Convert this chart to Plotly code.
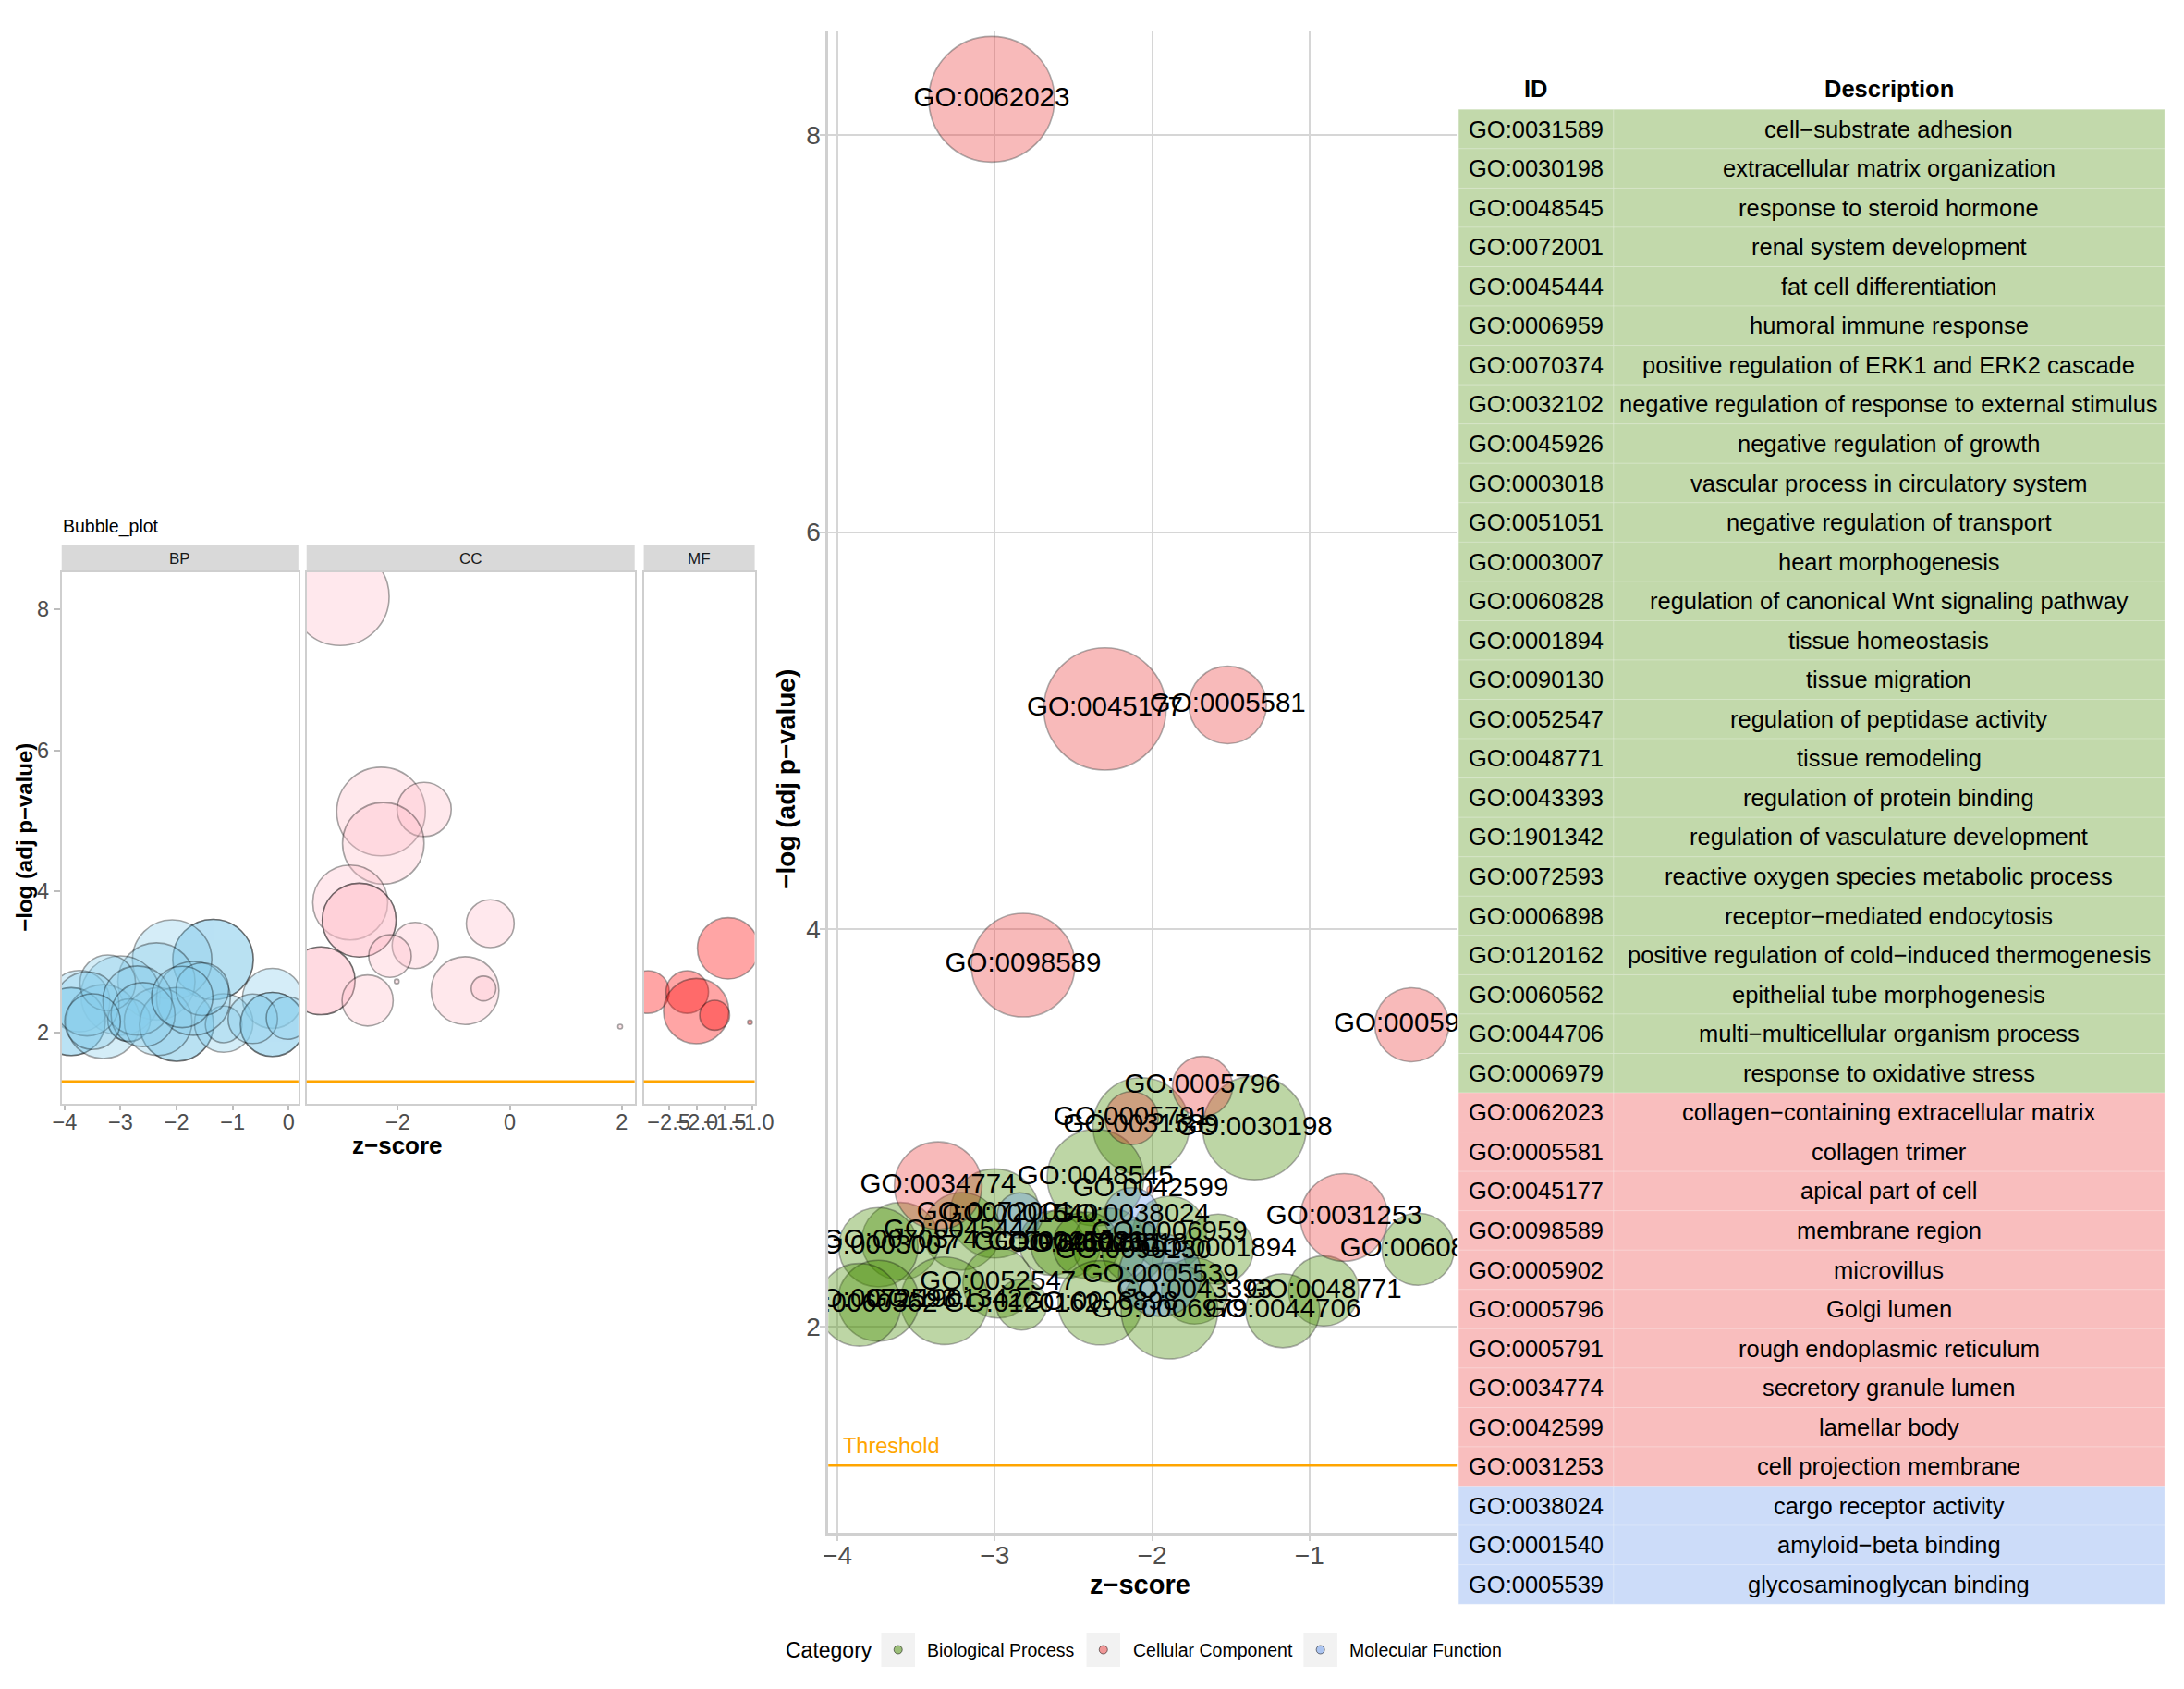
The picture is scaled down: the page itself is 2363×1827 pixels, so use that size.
import plotly.graph_objects as go

W, H = 2363, 1827
FONT = "Liberation Sans, Arial, Helvetica, sans-serif"

# ---------------- main bubble plot / table data (table order) ----------------
go_ids = [
    "GO:0031589", "GO:0030198", "GO:0048545", "GO:0072001", "GO:0045444",
    "GO:0006959", "GO:0070374", "GO:0032102", "GO:0045926", "GO:0003018",
    "GO:0051051", "GO:0003007", "GO:0060828", "GO:0001894", "GO:0090130",
    "GO:0052547", "GO:0048771", "GO:0043393", "GO:1901342", "GO:0072593",
    "GO:0006898", "GO:0120162", "GO:0060562", "GO:0044706", "GO:0006979",
    "GO:0062023", "GO:0005581", "GO:0045177", "GO:0098589", "GO:0005902",
    "GO:0005796", "GO:0005791", "GO:0034774", "GO:0042599", "GO:0031253",
    "GO:0038024", "GO:0001540", "GO:0005539",
]
descriptions = [
    "cell\u2212substrate adhesion", "extracellular matrix organization",
    "response to steroid hormone", "renal system development",
    "fat cell differentiation", "humoral immune response",
    "positive regulation of ERK1 and ERK2 cascade",
    "negative regulation of response to external stimulus",
    "negative regulation of growth", "vascular process in circulatory system",
    "negative regulation of transport", "heart morphogenesis",
    "regulation of canonical Wnt signaling pathway", "tissue homeostasis",
    "tissue migration", "regulation of peptidase activity", "tissue remodeling",
    "regulation of protein binding", "regulation of vasculature development",
    "reactive oxygen species metabolic process", "receptor\u2212mediated endocytosis",
    "positive regulation of cold\u2212induced thermogenesis",
    "epithelial tube morphogenesis", "multi\u2212multicellular organism process",
    "response to oxidative stress",
    "collagen\u2212containing extracellular matrix", "collagen trimer",
    "apical part of cell", "membrane region", "microvillus", "Golgi lumen",
    "rough endoplasmic reticulum", "secretory granule lumen", "lamellar body",
    "cell projection membrane",
    "cargo receptor activity", "amyloid\u2212beta binding", "glycosaminoglycan binding",
]
categories = ["BP"] * 25 + ["CC"] * 10 + ["MF"] * 3
zscore = [
    -2.07, -1.35, -2.36, -3.00, -3.21,
    -1.89, -3.60, -2.64, -2.55, -2.27,
    -2.42, -3.74, -0.31, -1.58, -2.12,
    -2.98, -0.91, -1.73, -3.32, -3.74,
    -2.33, -2.83, -3.86, -1.17, -1.89,
    -3.02, -1.52, -2.30, -2.82, -0.35,
    -1.68, -2.13, -3.36, -2.01, -0.78,
    -2.13, -2.84, -1.95,
]
neglog_adj_p = [
    3.01, 3.00, 2.75, 2.57, 2.48,
    2.47, 2.43, 2.42, 2.42, 2.41,
    2.41, 2.40, 2.39, 2.39, 2.38,
    2.22, 2.18, 2.18, 2.13, 2.13,
    2.12, 2.11, 2.11, 2.08, 2.08,
    8.18, 5.13, 5.11, 3.82, 3.52,
    3.21, 3.05, 2.71, 2.69, 2.55,
    2.56, 2.56, 2.26,
]
gene_count = [
    37, 42, 37, 32, 25,
    23, 25, 18, 21, 23,
    19, 26, 22, 21, 17,
    21, 21, 19, 31, 27,
    29, 12, 28, 23, 37,
    60, 25, 57, 42, 23,
    16, 13, 31, 1, 31,
    14, 10, 28,
]

# ---------------- faceted bubble plot data ----------------
facet_bp_z = [-1.35, -1.35, -2.08, -2.36, -3.00, -0.29, -3.74, -3.88, -3.88, -3.31,
              -2.85, -2.85, -2.00, -2.00, -2.33, -1.16, -1.16, -0.29, -0.29, -0.64,
              -0.02, -1.70, -1.54, -3.23, -3.60, -2.70, -2.60, -1.90, -3.50]
facet_bp_logp = [3.03, 3.03, 3.03, 2.72, 2.52, 2.48, 2.44, 2.15, 2.15, 2.15,
                 2.17, 2.17, 2.11, 2.11, 2.15, 2.13, 2.11, 2.11, 2.11, 2.19,
                 2.20, 2.48, 2.61, 2.70, 2.40, 2.45, 2.25, 2.50, 2.15]
facet_bp_count = [42, 42, 41, 39, 41, 25, 26, 31, 31, 36,
                  14, 14, 36, 36, 31, 24, 11, 28, 28, 18,
                  14, 36, 20, 22, 28, 32, 28, 26, 22]

facet_cc_z = [-3.03, -2.30, -1.53, -2.26, -2.85, -2.69, -2.69, -0.35, -1.69, -2.14,
              -3.37, -3.37, -2.02, -2.54, -0.80, -0.47, 1.97]
facet_cc_logp = [8.18, 5.13, 5.16, 4.68, 3.84, 3.59, 3.59, 3.54, 3.23, 3.08,
                 2.73, 2.73, 2.72, 2.45, 2.59, 2.62, 2.08]
facet_cc_count = [60, 50, 21, 43, 37, 36, 36, 17, 16, 14,
                  31, 31, 1, 19, 31, 6, 1]

facet_mf_z = [-1.44, -2.87, -2.17, -2.01, -1.68, -1.05]
facet_mf_logp = [3.19, 2.57, 2.57, 2.30, 2.24, 2.14]
facet_mf_count = [26, 14, 14, 29, 8, 1]

threshold = 1.301  # -log10(0.05)

main_xticks = [-4, -3, -2, -1]
main_yticks = [2, 4, 6, 8]
facet_yticks = [2, 4, 6, 8]
facet_bp_xticks = [-4, -3, -2, -1, 0]
facet_cc_xticks = [-2, 0, 2]
facet_mf_xticks = [-2.5, -2.0, -1.5, -1.0]
facet_mf_xticktext = ["\u22122.5", "\u22122.0", "\u22121.5", "\u22121.0"]

category_names = {"BP": "Biological Process", "CC": "Cellular Component",
                  "MF": "Molecular Function"}
cat_rgb = {"BP": (69, 139, 0), "CC": (238, 59, 59), "MF": (100, 149, 237)}
facet_rgb = {"BP": (135, 206, 235), "CC": (255, 192, 203), "MF": (255, 0, 0)}


def rgba(c, a):
    return "rgba(%d,%d,%d,%.3f)" % (c[0], c[1], c[2], a)


def bubble_diam(counts, r_min, r_max, c_max=60.0):
    # ggplot-like area scale: radius linear in sqrt(count)
    return [2 * (r_min + (c ** 0.5 - 1) / (c_max ** 0.5 - 1) * (r_max - r_min)) for c in counts]


def px(xa):
    return xa / W


def py(ya):
    return 1 - ya / H


fig = go.Figure()

# ---------------- facet traces ----------------
facets = [
    ("BP", facet_bp_z, facet_bp_logp, facet_bp_count, "x2", "y2"),
    ("CC", facet_cc_z, facet_cc_logp, facet_cc_count, "x3", "y3"),
    ("MF", facet_mf_z, facet_mf_logp, facet_mf_count, "x4", "y4"),
]
for cat, zz, ll, cc, xa, ya in facets:
    fig.add_trace(go.Scatter(
        x=zz, y=ll, mode="markers", xaxis=xa, yaxis=ya, showlegend=False,
        hoverinfo="skip",
        marker=dict(size=bubble_diam(cc, 2.5, 53), sizemode="diameter",
                    color=rgba(facet_rgb[cat], 0.5),
                    line=dict(color="rgba(0,0,0,0.5)", width=1.6)),
    ))

# ---------------- main traces ----------------
for cat in ["BP", "CC", "MF"]:
    idx = [i for i, c in enumerate(categories) if c == cat]
    fig.add_trace(go.Scatter(
        x=[zscore[i] for i in idx], y=[neglog_adj_p[i] for i in idx],
        mode="markers", xaxis="x", yaxis="y", showlegend=False, hoverinfo="skip",
        marker=dict(size=bubble_diam([gene_count[i] for i in idx], 4, 68),
                    sizemode="diameter", color=rgba(cat_rgb[cat], 0.5),
                    line=dict(color="rgba(0,0,0,0.45)", width=1.6)),
    ))
fig.add_trace(go.Scatter(
    x=zscore, y=neglog_adj_p, text=go_ids, mode="text", xaxis="x", yaxis="y",
    showlegend=False, hoverinfo="skip", textposition="middle center",
    textfont=dict(family=FONT, size=29.5, color="black"),
))

shapes = []
annotations = []

# threshold lines
for xa, ya in [("x", "y"), ("x2", "y2"), ("x3", "y3"), ("x4", "y4")]:
    shapes.append(dict(type="line", xref=xa + " domain", x0=0, x1=1, yref=ya,
                       y0=threshold, y1=threshold,
                       line=dict(color="#FFA500", width=2.5), layer="above"))

# ---------------- layout geometry ----------------
main_dom_x = [px(898), px(1587)]
main_dom_y = [py(1658), py(33)]
main_xr = [-4.058, -0.064]
main_yr = [0.962, 8.526]

f_dom_y = [py(1194), py(619)]
f_yr = [0.984, 8.525]
bp_dom = [px(57.5), px(317)]
cc_dom = [px(326), px(685.7)]
mf_dom = [px(695.7), px(817.3)]

grid_col = "#d6d6d6"
tick_font_main = dict(family=FONT, size=28, color="#4d4d4d")
tick_font_f = dict(family=FONT, size=23.5, color="#4d4d4d")

layout_axes = dict(
    xaxis=dict(domain=main_dom_x, range=main_xr, anchor="y", tickvals=main_xticks,
               showgrid=True, gridcolor=grid_col, gridwidth=2, zeroline=False,
               showline=True, linecolor="#d0d0d0", linewidth=2.5, ticks="outside",
               ticklen=6, tickwidth=2, tickcolor="#d0d0d0", tickfont=tick_font_main,
               tickangle=0, ticklabelstandoff=-8),
    yaxis=dict(domain=main_dom_y, range=main_yr, anchor="x", tickvals=main_yticks,
               showgrid=True, gridcolor=grid_col, gridwidth=2, zeroline=False,
               showline=True, linecolor="#d0d0d0", linewidth=2.5, ticks="outside",
               ticklen=6, tickwidth=2, tickcolor="#d0d0d0", tickfont=tick_font_main,
               ticklabelstandoff=-6),
)
for n, dom, tv, tt, rng in [
    (2, bp_dom, facet_bp_xticks, None, [-4.052, 0.174]),
    (3, cc_dom, facet_cc_xticks, None, [-3.629, 2.229]),
    (4, mf_dom, facet_mf_xticks, facet_mf_xticktext, [-2.945, -0.965]),
]:
    xd = dict(domain=dom, range=rng, anchor="y%d" % n, tickvals=tv, showgrid=False,
              zeroline=False, showline=True, mirror=True, linecolor="#cfcfcf",
              linewidth=2, ticks="outside", ticklen=5, tickwidth=2,
              tickcolor="#bdbdbd", tickfont=tick_font_f, tickangle=0,
              ticklabelstandoff=-7)
    if tt is not None:
        xd["ticktext"] = tt
    yd = dict(domain=f_dom_y, range=f_yr, anchor="x%d" % n, tickvals=facet_yticks,
              showgrid=False, zeroline=False, showline=True, mirror=True,
              linecolor="#cfcfcf", linewidth=2, tickfont=tick_font_f)
    if n == 2:
        yd.update(ticks="outside", ticklen=7, tickwidth=2, tickcolor="#bdbdbd")
    else:
        yd.update(showticklabels=False, ticks="")
    layout_axes["xaxis%d" % n] = xd
    layout_axes["yaxis%d" % n] = yd

# facet strips
for name, dom in [("BP", bp_dom), ("CC", cc_dom), ("MF", mf_dom)]:
    shapes.append(dict(type="rect", xref="paper", yref="paper", x0=dom[0], x1=dom[1],
                       y0=py(619), y1=py(590), fillcolor="#d9d9d9", line=dict(width=0),
                       layer="below"))
    annotations.append(dict(text=name, xref="paper", yref="paper", x=(dom[0] + dom[1]) / 2,
                            y=py(604.5), showarrow=False, xanchor="center", yanchor="middle",
                            font=dict(family=FONT, size=17, color="#1a1a1a")))

# titles
annotations += [
    dict(text="Bubble_plot", xref="paper", yref="paper", x=px(57), y=py(569),
         xanchor="left", yanchor="middle", showarrow=False,
         font=dict(family=FONT, size=19.5, color="black")),
    dict(text="<b>\u2212log (adj p\u2212value)</b>", xref="paper", yref="paper", x=px(16),
         y=py(906), textangle=-90, xanchor="center", yanchor="middle", showarrow=False,
         font=dict(family=FONT, size=24, color="black")),
    dict(text="<b>z\u2212score</b>", xref="paper", yref="paper", x=px(426), y=py(1239),
         xanchor="center", yanchor="middle", showarrow=False,
         font=dict(family=FONT, size=26, color="black")),
    dict(text="<b>\u2212log (adj p\u2212value)</b>", xref="paper", yref="paper", x=px(851),
         y=py(843), textangle=-90, xanchor="center", yanchor="middle", showarrow=False,
         font=dict(family=FONT, size=28, color="black")),
    dict(text="<b>z\u2212score</b>", xref="paper", yref="paper", x=px(1240), y=py(1714),
         xanchor="center", yanchor="middle", showarrow=False,
         font=dict(family=FONT, size=29, color="black")),
    dict(text="Threshold", xref="x", yref="y", x=-3.977, y=1.40, xanchor="left",
         yanchor="middle", showarrow=False,
         font=dict(family=FONT, size=23.5, color="#FFA500")),
]

# ---------------- table ----------------
tbl_x0, tbl_xm, tbl_x1 = 1589, 1759, 2363
row_top0, row_h = 118.3, 42.55
row_fill = {"BP": rgba(cat_rgb["BP"], 0.33), "CC": rgba(cat_rgb["CC"], 0.33),
            "MF": rgba(cat_rgb["MF"], 0.33)}
for i, (gid, desc, cat) in enumerate(zip(go_ids, descriptions, categories)):
    t = row_top0 + i * row_h
    b = t + row_h
    for xa0, xa1 in [(tbl_x0, tbl_xm), (tbl_xm, tbl_x1)]:
        shapes.append(dict(type="rect", xref="paper", yref="paper", x0=px(xa0), x1=px(xa1),
                           y0=py(b), y1=py(t), fillcolor=row_fill[cat],
                           line=dict(color="rgba(255,255,255,0.22)", width=1), layer="below"))
    annotations.append(dict(text=gid, xref="paper", yref="paper", x=px((tbl_x0 + tbl_xm) / 2),
                            y=py(t + row_h / 2), xanchor="center", yanchor="middle",
                            showarrow=False, font=dict(family=FONT, size=25.5, color="black")))
    annotations.append(dict(text=desc, xref="paper", yref="paper", x=px((tbl_xm + tbl_x1) / 2),
                            y=py(t + row_h / 2), xanchor="center", yanchor="middle",
                            showarrow=False, font=dict(family=FONT, size=25.5, color="black")))
for txt, xc in [("ID", (tbl_x0 + tbl_xm) / 2), ("Description", (tbl_xm + tbl_x1) / 2)]:
    annotations.append(dict(text="<b>%s</b>" % txt, xref="paper", yref="paper", x=px(xc),
                            y=py(96.5), xanchor="center", yanchor="middle", showarrow=False,
                            font=dict(family=FONT, size=25.5, color="black")))

# ---------------- legend (manual) ----------------
leg_y = 1784.5
annotations.append(dict(text="Category", xref="paper", yref="paper", x=px(849), y=py(leg_y),
                        xanchor="left", yanchor="middle", showarrow=False,
                        font=dict(family=FONT, size=23, color="black")))
for cat, kx, lx in [("BP", 974.5, 1004), ("CC", 1199.5, 1230), ("MF", 1437.5, 1467)]:
    shapes.append(dict(type="rect", xref="paper", yref="paper", x0=px(kx - 18.5),
                       x1=px(kx + 18.5), y0=py(leg_y + 18.5), y1=py(leg_y - 18.5),
                       fillcolor="#f2f2f2", line=dict(width=0)))
    shapes.append(dict(type="circle", xref="paper", yref="paper", xsizemode="pixel",
                       ysizemode="pixel", xanchor=px(kx), yanchor=py(leg_y),
                       x0=-4.5, x1=4.5, y0=-4.5, y1=4.5,
                       fillcolor=rgba(cat_rgb[cat], 0.5),
                       line=dict(color="rgba(0,0,0,0.5)", width=1)))
    annotations.append(dict(text=category_names[cat], xref="paper", yref="paper", x=px(lx),
                            y=py(leg_y), xanchor="left", yanchor="middle", showarrow=False,
                            font=dict(family=FONT, size=19.5, color="black")))

fig.update_layout(
    width=W, height=H, autosize=False,
    margin=dict(l=0, r=0, t=0, b=0, pad=0),
    paper_bgcolor="white", plot_bgcolor="white",
    showlegend=False, hovermode=False,
    font=dict(family=FONT),
    shapes=shapes, annotations=annotations,
    **layout_axes,
)

# remove the default page margin so the figure fills the window exactly
fig.write_html(
    "out.html",
    config={"displayModeBar": False},
    post_script=("document.body.style.margin='0';"
                 "document.body.style.overflow='hidden';"
                 "document.documentElement.style.overflow='hidden';"),
)
